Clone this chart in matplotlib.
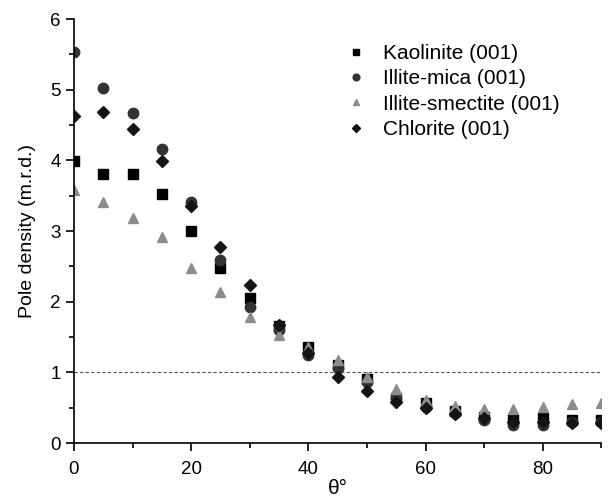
import matplotlib.pyplot as plt
import numpy as np

plt.rcParams['font.family'] = ['Liberation Sans', 'DejaVu Sans']

theta = np.arange(0, 95, 5)

kaolinite = [3.99, 3.80, 3.81, 3.52, 3.00, 2.47, 2.05, 1.65, 1.36, 1.10, 0.90,
             0.64, 0.57, 0.45, 0.37, 0.34, 0.35, 0.33, 0.33]
illite_mica = [5.53, 5.02, 4.67, 4.16, 3.41, 2.59, 1.93, 1.60, 1.25, 1.06, 0.87,
               0.63, 0.51, 0.42, 0.33, 0.25, 0.26, 0.30, 0.30]
illite_smectite = [3.58, 3.41, 3.19, 2.91, 2.48, 2.13, 1.79, 1.53, 1.36, 1.17, 0.94,
                   0.77, 0.61, 0.52, 0.48, 0.48, 0.51, 0.55, 0.56]
chlorite = [4.63, 4.69, 4.45, 3.99, 3.35, 2.78, 2.24, 1.67, 1.28, 0.94, 0.74,
            0.58, 0.50, 0.41, 0.35, 0.30, 0.30, 0.29, 0.29]

fig = plt.figure(figsize=(6.09, 5), dpi=100)
ax = fig.add_axes([0.1215, 0.114, 0.866, 0.848])

ax.axhline(1, color='#555555', lw=0.8, ls=(0, (3, 2)), zorder=1)

ax.plot(theta, kaolinite, 's', color='black', ms=6.5, label='Kaolinite (001)')
ax.plot(theta, illite_mica, 'o', color='#333333', ms=7.5, label='Illite-mica (001)')
ax.plot(theta, illite_smectite, '^', color='#8c8c8c', ms=7.5, label='Illite-smectite (001)')
ax.plot(theta, chlorite, 'D', color='#151515', ms=6.5, label='Chlorite (001)')

ax.set_xlim(0, 90)
ax.set_ylim(0, 6)
ax.set_xticks([0, 20, 40, 60, 80])
ax.set_xticks(np.arange(0, 91, 10), minor=True)
ax.set_yticks(np.arange(0, 7, 1))
ax.set_yticks(np.arange(0, 6.1, 0.5), minor=True)
ax.tick_params(which='major', length=6, width=1.2, labelsize=13.5, direction='out')
ax.tick_params(which='minor', length=3.5, width=1.2, direction='out')
ax.tick_params(axis='x', which='major', pad=7)

for s in ['top', 'right']:
    ax.spines[s].set_visible(False)
for s in ['left', 'bottom']:
    ax.spines[s].set_linewidth(1.2)

ax.set_xlabel('θ°', fontsize=15, labelpad=1)
ax.set_ylabel('Pole density (m.r.d.)', fontsize=14, labelpad=10)

ax.legend(loc='upper left', bbox_to_anchor=(0.475, 0.985), frameon=False, fontsize=15,
          markerscale=0.65, handletextpad=0.7, labelspacing=0.3, handlelength=1.2)

fig.savefig('out.png', dpi=100)
